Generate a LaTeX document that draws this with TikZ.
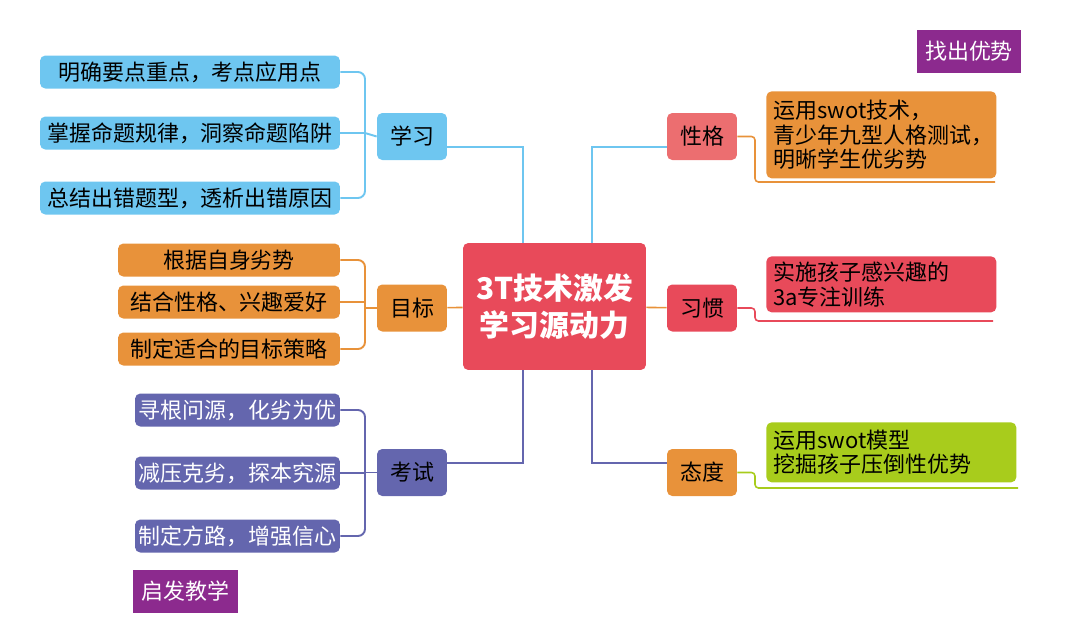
\documentclass[tikz,border=0pt]{standalone}
\usepackage{fontspec}
\setmainfont{Noto Sans CJK SC}
\usetikzlibrary{positioning}

\definecolor{cblue}{HTML}{6EC6F0}
\definecolor{corange}{HTML}{E8923A}
\definecolor{cpurple}{HTML}{6466AE}
\definecolor{cred}{HTML}{E84A5A}
\definecolor{cpink}{HTML}{EC6E70}
\definecolor{cgreen}{HTML}{A8CC1C}
\definecolor{cviolet}{HTML}{8C2A8E}

\begin{document}
\begin{tikzpicture}[
  x=0.02cm, y=-0.02cm,
  every node/.style={font=\fontsize{12.5pt}{15pt}\selectfont, inner sep=0pt},
  mainbox/.style={fill=cred, rounded corners=3pt, text=white, align=center,
    minimum width=3.66cm, minimum height=2.54cm, font=\fontsize{17pt}{21pt}\selectfont\bfseries},
  topic/.style={fill=#1, rounded corners=3pt, minimum width=1.4cm, minimum height=0.94cm},
  leaf/.style={fill=#1, rounded corners=3pt, minimum height=0.66cm},
  note/.style={fill=#1, rounded corners=3pt, align=left, anchor=north west,
    inner xsep=4pt, inner ysep=3pt, font=\fontsize{12.5pt}{14pt}\selectfont},
  tag/.style={fill=cviolet, text=white, minimum width=2.1cm, minimum height=0.86cm},
  link/.style={draw=#1, line width=0.9pt},
  brace/.style={draw=#1, line width=1.1pt, rounded corners=4pt}
]
\useasboundingbox (0,0) rectangle (1080,640);

%--- centre
\node[mainbox] (core) at (554.5,306.5) {3T技术激发\\学习源动力};

%--- topics
\node[topic=cblue]    (study)  at (412,136.5) {学习};
\node[topic=corange]  (goal)   at (412,308)   {目标};
\node[topic=cpurple]  (exam)   at (412,472.5) {考试};
\node[topic=cpink]    (trait)  at (702,136.5) {性格};
\node[topic=cred]     (habit)  at (702,308)   {习惯};
\node[topic=corange]  (mood)   at (702,472.5) {态度};

%--- topic links
\draw[link=cblue]   (study.east |- 0,147) -- (523,147) -- (523,243);
\draw[link=cblue]   (trait.west |- 0,147) -- (592,147) -- (592,243);
\draw[link=corange] (goal) -- (core);
\draw[link=corange] (habit) -- (core);
\draw[link=cpurple] (exam.east |- 0,463) -- (523,463) -- (523,370);
\draw[link=cpurple] (mood.west |- 0,463) -- (592,463) -- (592,370);

%--- left leaves
\node[leaf=cblue, minimum width=6cm]   (s1) at (190,72)  {明确要点重点，考点应用点};
\node[leaf=cblue, minimum width=6cm]   (s2) at (190,133) {掌握命题规律，洞察命题陷阱};
\node[leaf=cblue, minimum width=6cm]   (s3) at (190,198) {总结出错题型，透析出错原因};
\node[leaf=corange, minimum width=4.44cm] (g1) at (229,260) {根据自身劣势};
\node[leaf=corange, minimum width=4.44cm] (g2) at (229,302) {结合性格、兴趣爱好};
\node[leaf=corange, minimum width=4.44cm] (g3) at (229,349) {制定适合的目标策略};
\node[leaf=cpurple, minimum width=4.1cm, text=white] (e1) at (237.5,410) {寻根问源，化劣为优};
\node[leaf=cpurple, minimum width=4.1cm, text=white] (e2) at (237.5,473) {减压克劣，探本究源};
\node[leaf=cpurple, minimum width=4.1cm, text=white] (e3) at (237.5,536) {制定方路，增强信心};

%--- brackets
\draw[brace=cblue] (s1.east) -- (365,72) -- (365,198) -- (s3.east);
\draw[brace=cblue] (study.west) -- (s2.east -| 365,0);
\draw[link=cblue] (s2.east) -- (365,133);
\draw[brace=corange] (g1.east) -- (365,260) -- (365,349) -- (g3.east);
\draw[link=corange] (goal.west) -- (365,308);
\draw[link=corange] (g2.east) -- (365,302);
\draw[brace=cpurple] (e1.east) -- (365,410) -- (365,536) -- (e3.east);
\draw[link=cpurple] (exam.west) -- (365,472.5);
\draw[link=cpurple] (e2.east) -- (365,473);

%--- right notes
\node[note=corange, text width=4.32cm, minimum height=1.74cm] (t1) at (766,91)
  {运用swot技术，\\青少年九型人格测试，\\明晰学生优劣势};
\node[note=cred, text width=4.32cm, minimum height=1.12cm] (h1) at (766,256)
  {实施孩子感兴趣的\\3a专注训练};
\node[note=cgreen, text width=4.72cm, minimum height=1.2cm] (m1) at (766,422)
  {运用swot模型\\挖掘孩子压倒性优势};

\draw[link=corange, rounded corners=2pt] (trait.east) -- (755,136.5) -- (755,182) -- (995,182);
\draw[link=cred, rounded corners=2pt] (habit.east) -- (755,308) -- (755,321) -- (993,321);
\draw[link=cgreen, rounded corners=2pt] (mood.east) -- (755,472.5) -- (755,488) -- (1018,488);

%--- tags
\node[tag] (find)  at (969,51.5)  {找出优势};
\node[tag] (teach) at (185.5,591) {启发教学};
\end{tikzpicture}
\end{document}
